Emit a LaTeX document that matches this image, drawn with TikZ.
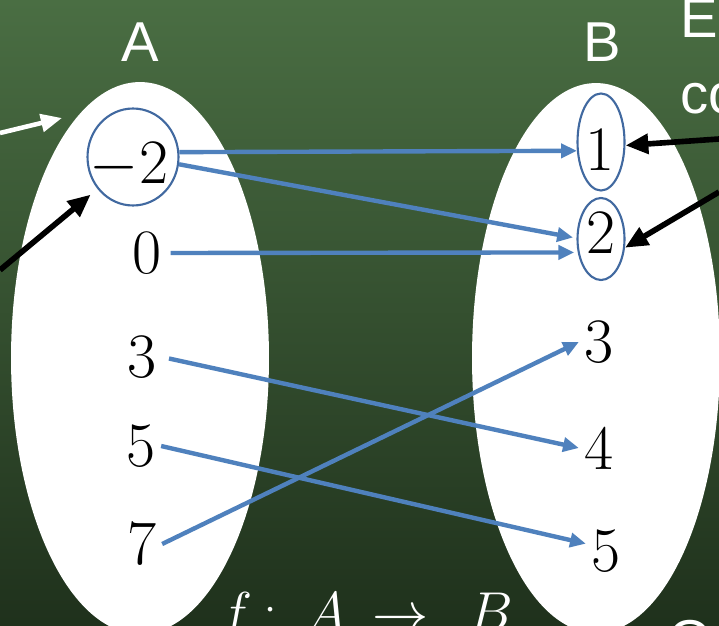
\RequirePackage{fix-cm}
\documentclass[tikz,border=0pt]{standalone}
\usepackage{fontspec}
\newfontfamily\slidesans{Liberation Sans}
\usepackage{xcolor}
\usetikzlibrary{arrows.meta, shapes.geometric}

\definecolor{boardtop}{RGB}{74,110,67}
\definecolor{boardmid}{RGB}{62,97,56}
\definecolor{boardbot}{RGB}{31,49,28}
\definecolor{mapblue}{RGB}{79,129,189}
\definecolor{ringblue}{RGB}{65,105,160}

\begin{document}
\begin{tikzpicture}[
        x=0.02cm, y=-0.02cm,
        conj/.style={ellipse, fill=white, inner sep=0pt},
        elem/.style={font=\fontsize{36}{40}\selectfont, inner sep=3pt},
        ring/.style={ellipse, draw=ringblue, line width=1.2pt, inner sep=0pt},
        setname/.style={font=\slidesans\fontsize{32}{36}\selectfont, text=white, inner sep=0pt},
        formula/.style={font=\fontsize{32}{36}\selectfont, text=white, inner sep=0pt},
        maparrow/.style={draw=mapblue, line width=2.5pt, -{Triangle[length=9pt,width=8pt]}},
        pointer/.style={draw=black, line width=3.2pt, -{Triangle[length=13pt,width=11pt]}},
        hint/.style={draw=white, line width=2.6pt, -{Triangle[length=12pt,width=10pt]}}
    ]

        \useasboundingbox (0,0) rectangle (719,625);
        \clip (0,0) rectangle (719,625);
        \shade[top color=boardtop, middle color=boardmid, bottom color=boardbot] (0,0) rectangle (719,625);

        \node[conj, minimum width=5.16cm, minimum height=11.04cm] (setA) at (140,358) {};
        \node[conj, minimum width=4.96cm, minimum height=11.0cm] (setB) at (596,358) {};

        \node[setname] (nameA) at (140,42) {A};
        \node[setname] (nameB) at (602,42) {B};
        \node[setname, anchor=base west] (hintE) at (680,38) {E};
        \node[setname, anchor=base west] (hintCo) at (680,113) {co};
        \node[setname, anchor=base] (hintO) at (690,659) {O};
        \node[formula, anchor=base west] (fmap) at (219,631)
            {$f\hspace{0.2em}{:}\hspace{0.5em}A\hspace{0.45em}{\to}\hspace{0.7em}B$};

        \node[ring, minimum width=1.82cm, minimum height=1.94cm] (r0) at (133,157) {};
        \node[ring, minimum width=0.94cm, minimum height=1.94cm] (r1) at (601,142) {};
        \node[ring, minimum width=0.94cm, minimum height=1.64cm] (r2) at (601,239) {};

        \node[elem] (a1) at (129,166) {$-2$};
        \node[elem] (a2) at (147,253) {0};
        \node[elem] (a3) at (142,357) {3};
        \node[elem] (a4) at (141,446) {5};
        \node[elem] (a5) at (142,544) {7};

        \node[elem] (b1) at (600,150) {1};
        \node[elem] (b2) at (601,233) {2};
        \node[elem] (b3) at (599,342) {3};
        \node[elem] (b4) at (599,448) {4};
        \node[elem] (b5) at (606,551) {5};

        \draw[maparrow] (r0.6) -- (r1.200);
        \draw[maparrow, shorten >=2pt] (r0.-9) -- (r2.178);
        \draw[maparrow, shorten <=2pt, shorten >=2pt] (a2.east) -- (r2.210);
        \draw[maparrow, shorten <=4pt] (a3.east) -- (b4.west);
        \draw[maparrow] (a4.east) -- (b5.160);
        \draw[maparrow] (a5.east) -- (b3.west);

        \coordinate (pA) at (0,270);
        \coordinate (p1) at (719,139);
        \coordinate (p2) at (719,192);
        \draw[pointer, shorten >=5pt] (pA) -- (r0.222);
        \draw[pointer] (p1) -- (r1.-8);
        \draw[pointer] (p2) -- (r2.-20);

        \coordinate (wS) at (0,133);
        \coordinate (wT) at (62,118);
        \draw[hint] (wS) -- (wT);

    \end{tikzpicture}
\end{document}
